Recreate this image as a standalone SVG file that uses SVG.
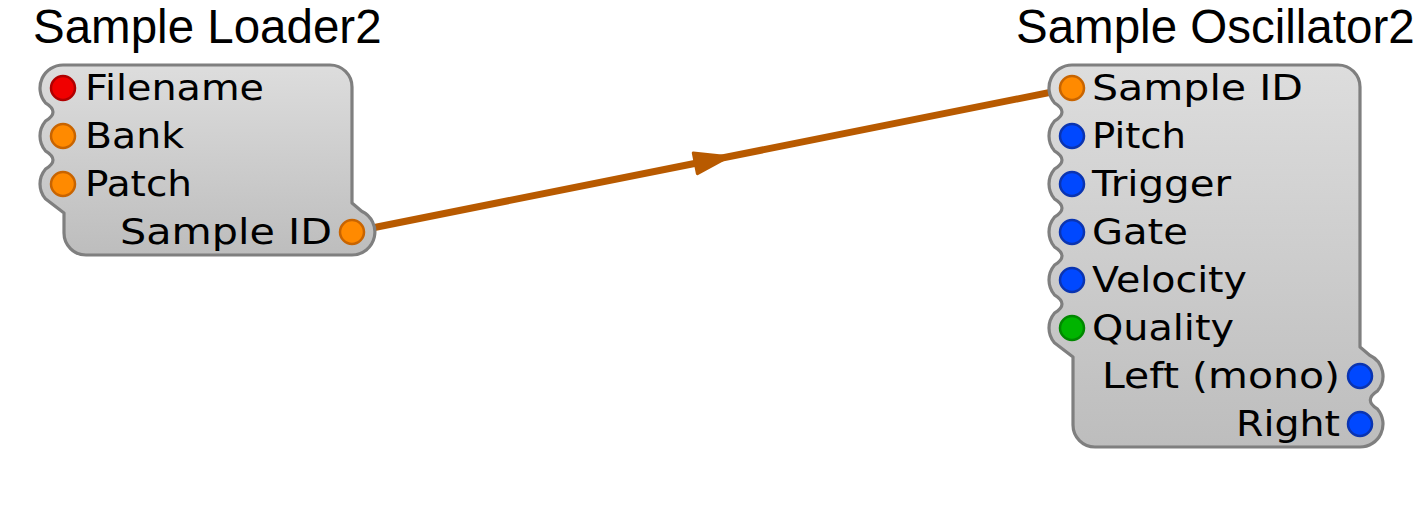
<svg xmlns="http://www.w3.org/2000/svg" width="1424" height="512" viewBox="0 0 1424 512">
<style>
.title{font-family:"Liberation Sans",Arial,sans-serif;font-size:47.5px;fill:#000}
.lbl{font-family:"DejaVu Sans","Verdana",sans-serif;font-size:35.5px;fill:#000}
.end{text-anchor:end}
.body{fill:url(#bodyGrad);stroke:#7f7f7f;stroke-width:3.2;stroke-linejoin:round}
.port{stroke-width:2.5}
.orange{fill:#ff8a00;stroke:#c86400}
.red{fill:#f00000;stroke:#b00000}
.blue{fill:#0048ff;stroke:#0a34b0}
.green{fill:#00b400;stroke:#008800}
.wire{fill:none;stroke:#b85a00;stroke-width:7;stroke-linecap:round}
</style>
<defs>
<linearGradient id="bodyGrad" x1="0" y1="0" x2="0" y2="1">
<stop offset="0" stop-color="#dddddd"/>
<stop offset="1" stop-color="#bdbdbd"/>
</linearGradient>
<marker id="midArrow" markerUnits="userSpaceOnUse" orient="auto" markerWidth="60" markerHeight="40" refX="0" refY="0" viewBox="-30 -20 60 40" overflow="visible">
<polygon points="-17,-10.5 17,0 -17,10.5" fill="#b85a00" stroke="#b85a00" stroke-width="3" stroke-linejoin="round"/>
</marker>
</defs>
<rect width="1424" height="512" fill="#ffffff"/>
<g id="connectors">
<path class="wire" d="M352,232 L712,160 L1072,88" marker-mid="url(#midArrow)"/>
</g>
<g id="sample-loader2">
<text class="title" x="33" y="43">Sample Loader2</text>
<path class="body" d="M63,65 H330 A22 22 0 0 1 352,87 V203 L361.7,211.2 A23 23 0 0 1 352,255 H86 A22 22 0 0 1 64,233 V213 L45.4,198.8 A23 23 0 0 1 45.4,169.2 Q60.6,160 45.4,150.8 A23 23 0 0 1 45.4,121.2 Q60.6,112 45.4,102.8 A23 23 0 0 1 63,65 Z"/>
<circle class="port red" cx="63" cy="88" r="12"/>
<circle class="port orange" cx="63" cy="136" r="12"/>
<circle class="port orange" cx="63" cy="184" r="12"/>
<circle class="port orange" cx="352" cy="232" r="12"/>
<text class="lbl" x="85" y="100" textLength="179" lengthAdjust="spacingAndGlyphs">Filename</text>
<text class="lbl" x="85" y="148" textLength="99" lengthAdjust="spacingAndGlyphs">Bank</text>
<text class="lbl" x="85" y="196" textLength="107" lengthAdjust="spacingAndGlyphs">Patch</text>
<text class="lbl end" x="332" y="244" textLength="212" lengthAdjust="spacingAndGlyphs">Sample ID</text>
</g>
<g id="sample-oscillator2">
<text class="title" x="1016" y="43">Sample Oscillator2</text>
<path class="body" d="M1072,65 H1338 A22 22 0 0 1 1360,87 V347 L1369.7,355.2 A23 23 0 0 1 1377.6,390.8 Q1363,400 1377.6,409.2 A23 23 0 0 1 1360,447 H1095 A22 22 0 0 1 1073,425 V357 L1054.4,342.8 A23 23 0 0 1 1054.4,313.2 Q1069.6,304 1054.4,294.8 A23 23 0 0 1 1054.4,265.2 Q1069.6,256 1054.4,246.8 A23 23 0 0 1 1054.4,217.2 Q1069.6,208 1054.4,198.8 A23 23 0 0 1 1054.4,169.2 Q1069.6,160 1054.4,150.8 A23 23 0 0 1 1054.4,121.2 Q1069.6,112 1054.4,102.8 A23 23 0 0 1 1072,65 Z"/>
<circle class="port orange" cx="1072" cy="88" r="12"/>
<circle class="port blue" cx="1072" cy="136" r="12"/>
<circle class="port blue" cx="1072" cy="184" r="12"/>
<circle class="port blue" cx="1072" cy="232" r="12"/>
<circle class="port blue" cx="1072" cy="280" r="12"/>
<circle class="port green" cx="1072" cy="328" r="12"/>
<circle class="port blue" cx="1360" cy="376" r="12"/>
<circle class="port blue" cx="1360" cy="424" r="12"/>
<text class="lbl" x="1092" y="100" textLength="211" lengthAdjust="spacingAndGlyphs">Sample ID</text>
<text class="lbl" x="1092" y="148" textLength="94" lengthAdjust="spacingAndGlyphs">Pitch</text>
<text class="lbl" x="1092" y="196" textLength="139" lengthAdjust="spacingAndGlyphs">Trigger</text>
<text class="lbl" x="1092" y="244" textLength="96" lengthAdjust="spacingAndGlyphs">Gate</text>
<text class="lbl" x="1092" y="292" textLength="155" lengthAdjust="spacingAndGlyphs">Velocity</text>
<text class="lbl" x="1092" y="340" textLength="142" lengthAdjust="spacingAndGlyphs">Quality</text>
<text class="lbl end" x="1340" y="388" textLength="238" lengthAdjust="spacingAndGlyphs">Left (mono)</text>
<text class="lbl end" x="1340" y="436" textLength="104" lengthAdjust="spacingAndGlyphs">Right</text>
</g>
</svg>
